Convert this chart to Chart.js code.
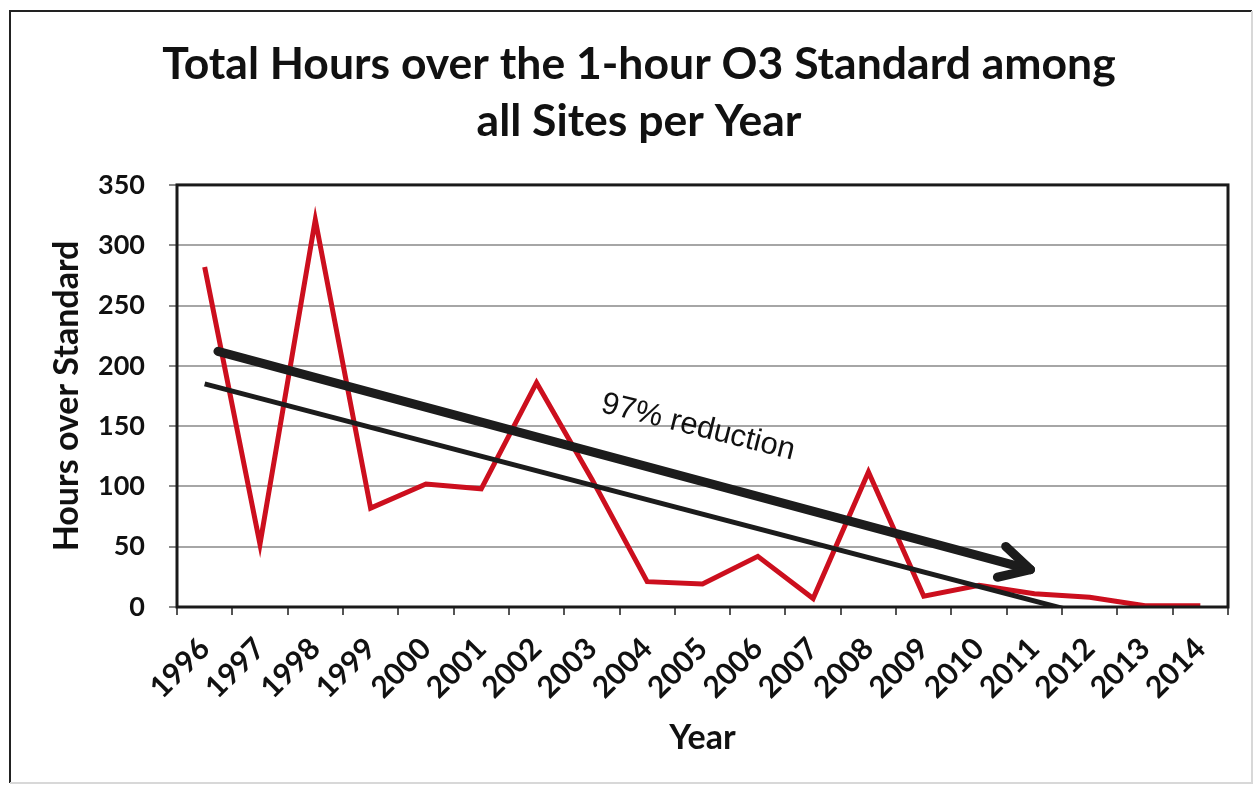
<!DOCTYPE html>
<html>
<head>
<meta charset="utf-8">
<script src="https://cdn.jsdelivr.net/npm/chart.js@4.4.0/dist/chart.umd.min.js"></script>
<style>
  html, body { margin: 0; padding: 0; background: #fff; }
  #wrap { width: 1254px; height: 785px; }
</style>
</head>
<body>
<div id="wrap"><canvas id="chart" width="1254" height="785"></canvas></div>
<script>
// Data
const years = ['1996', '1997', '1998', '1999', '2000', '2001', '2002', '2003', '2004', '2005',
               '2006', '2007', '2008', '2009', '2010', '2011', '2012', '2013', '2014'];
const hoursOver = [282, 52, 321, 82, 102, 98, 186, 106, 21, 19, 42, 7, 112, 9, 18, 11, 8, 1, 1];
const trendEnds = [185, -31];          // linear trend at first and last year
const yTicks = [0, 50, 100, 150, 200, 250, 300, 350];

// Annotation arrow + label, in (year index, hours)
const arrowFrom = [0.24, 212];
const arrowTo = [14.93, 31];
const noteText = '97% reduction';
const notePos = [8.92, 149];

const trendData = years.map((_, i) => i === 0 ? trendEnds[0] : (i === years.length - 1 ? trendEnds[1] : null));

function idxToPx(xs, i) {
    const a = xs.getPixelForValue(0);
    const b = xs.getPixelForValue(1);
    return a + i * (b - a);
}

const decorPlugin = {
    id: 'decor',
    afterDatasetsDraw(chart) {
        const ctx = chart.ctx;
        const xs = chart.scales.x, ys = chart.scales.y;
        const x0 = idxToPx(xs, arrowFrom[0]), y0 = ys.getPixelForValue(arrowFrom[1]);
        const x1 = idxToPx(xs, arrowTo[0]), y1 = ys.getPixelForValue(arrowTo[1]);
        const ang = Math.atan2(y1 - y0, x1 - x0);

        ctx.save();
        ctx.strokeStyle = '#1c1c1c';
        ctx.lineWidth = 9;
        ctx.lineCap = 'round';
        ctx.lineJoin = 'round';
        ctx.beginPath();
        ctx.moveTo(x0, y0);
        ctx.lineTo(x1, y1);
        ctx.stroke();
        // arrow head
        const len = 34, spread = 28 * Math.PI / 180;
        ctx.beginPath();
        ctx.moveTo(x1 - len * Math.cos(ang - spread), y1 - len * Math.sin(ang - spread));
        ctx.lineTo(x1, y1);
        ctx.lineTo(x1 - len * Math.cos(ang + spread), y1 - len * Math.sin(ang + spread));
        ctx.stroke();

        // label
        const tx = idxToPx(xs, notePos[0]), ty = ys.getPixelForValue(notePos[1]);
        ctx.translate(tx, ty);
        ctx.rotate(14 * Math.PI / 180);
        ctx.fillStyle = '#111';
        ctx.font = '31px "Liberation Sans", Arial, sans-serif';
        ctx.textAlign = 'center';
        ctx.textBaseline = 'middle';
        ctx.fillText(noteText, 0, 0);
        ctx.restore();
    },
    afterDraw(chart) {
        const ctx = chart.ctx;
        const a = chart.chartArea;
        ctx.save();
        // plot frame
        ctx.strokeStyle = '#1a1a1a';
        ctx.lineWidth = 3;
        ctx.strokeRect(a.left, a.top, a.right - a.left, a.bottom - a.top);
        // outer frame of the scanned figure
        ctx.lineWidth = 2;
        ctx.strokeStyle = '#222';
        ctx.beginPath();
        ctx.moveTo(10, 783);
        ctx.lineTo(10, 11);
        ctx.lineTo(1252, 11);
        ctx.stroke();
        ctx.strokeStyle = '#d8d8d8';
        ctx.beginPath();
        ctx.moveTo(1252, 11);
        ctx.lineTo(1252, 783);
        ctx.lineTo(10, 783);
        ctx.stroke();
        ctx.restore();
    }
};

new Chart(document.getElementById('chart'), {
    type: 'line',
    data: {
        labels: years,
        datasets: [{
            label: 'Hours over Standard',
            data: hoursOver,
            borderColor: '#cc0f1e',
            borderWidth: 5,
            pointRadius: 0,
            tension: 0,
            order: 2
        }, {
            label: 'Trend',
            data: trendData,
            spanGaps: true,
            borderColor: '#1c1c1c',
            borderWidth: 5,
            pointRadius: 0,
            order: 1
        }]
    },
    options: {
        responsive: false,
        animation: false,
        layout: { padding: { left: 50, right: 26, top: 0, bottom: 25 } },
        plugins: {
            legend: { display: false },
            tooltip: { enabled: false },
            title: {
                display: true,
                text: ['Total Hours over the 1-hour O3 Standard among', 'all Sites per Year'],
                color: '#111',
                font: { family: 'Lato', size: 44.5, weight: 'bold', lineHeight: 1.28 },
                padding: { top: 36, bottom: 35 }
            }
        },
        scales: {
            x: {
                offset: true,
                afterFit: s => { s.height = 153; },
                grid: {
                    offset: true,
                    drawOnChartArea: false,
                    drawTicks: true,
                    tickLength: 8,
                    color: '#555',
                    lineWidth: 2
                },
                border: { display: false },
                ticks: {
                    autoSkip: false,
                    minRotation: 45,
                    maxRotation: 45,
                    padding: 16,
                    color: '#111',
                    font: { family: 'Lato', size: 30, weight: 'bold' }
                },
                title: {
                    display: true,
                    text: 'Year',
                    color: '#111',
                    font: { family: 'Lato', size: 34, weight: 'bold', lineHeight: 1.2 },
                    padding: { top: 4, bottom: 2 }
                }
            },
            y: {
                min: 0,
                max: 350,
                afterFit: s => { s.width = 127; },
                afterBuildTicks: s => { s.ticks = yTicks.map(v => ({ value: v })); },
                grid: {
                    color: '#a6a6a6',
                    lineWidth: 2,
                    drawTicks: true,
                    tickLength: 8,
                    tickColor: '#888'
                },
                border: { display: false },
                ticks: {
                    padding: 24,
                    color: '#111',
                    font: { family: 'Lato', size: 27, weight: 'bold' }
                },
                title: {
                    display: true,
                    text: 'Hours over Standard',
                    color: '#111',
                    font: { family: 'Lato', size: 34, weight: 'bold', lineHeight: 1.2 },
                    padding: { top: -3, bottom: 0 }
                }
            }
        }
    },
    plugins: [decorPlugin]
});
</script>
</body>
</html>
